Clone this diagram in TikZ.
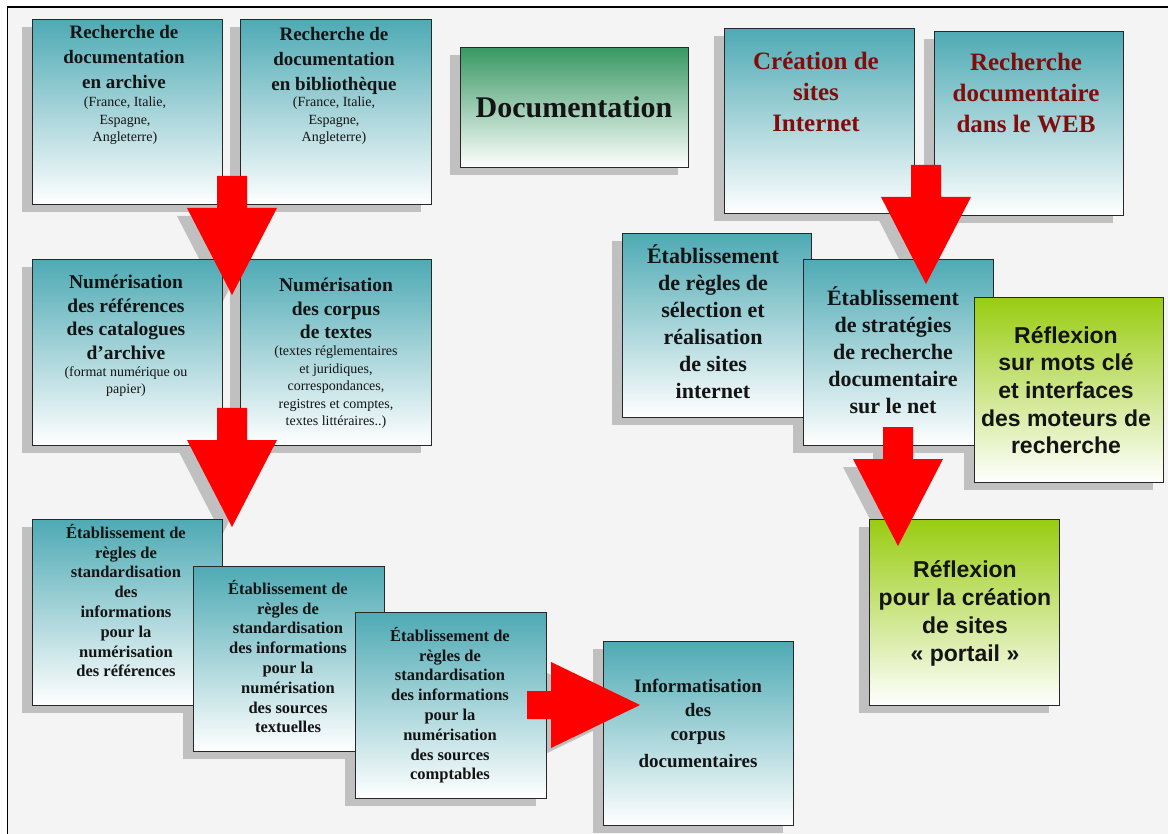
\documentclass[tikz,border=0pt]{standalone}
\usepackage{fontspec}
\setmainfont{Liberation Serif}
\newfontfamily\sansf{Liberation Sans}
\pgfdeclarelayer{bglayer}
\pgfdeclarelayer{shadowlayer}
\pgfdeclarelayer{frontlayer}
\pgfsetlayers{bglayer,shadowlayer,main,frontlayer}
\definecolor{tealtop}{RGB}{78,170,180}
\definecolor{doctop}{RGB}{56,152,100}
\definecolor{limetop}{RGB}{153,204,17}
\definecolor{shadowgrey}{RGB}{192,192,192}
\definecolor{boxline}{RGB}{40,40,40}
\definecolor{bgpaper}{RGB}{244,244,244}
\definecolor{arrowred}{RGB}{255,0,0}
\definecolor{webred}{RGB}{128,12,12}
\definecolor{inkblack}{RGB}{20,20,20}
\newcommand\fsz[2]{\fontsize{#1}{#2}\selectfont}
\newcommand\mkbox[6]{%
  \begin{pgfonlayer}{shadowlayer}\fill[shadowgrey] (#3-10,#4+8) rectangle ++(#5,#6);\end{pgfonlayer}%
  \node[#2, minimum width=#5pt, minimum height=#6pt] (#1) at (#3,#4) {};}
\tikzset{
  panel/.style={draw=boxline, line width=1.3pt, inner sep=0pt, anchor=north west, top color=#1, bottom color=white},
  tealpanel/.style={panel=tealtop},
  docpanel/.style={panel=doctop},
  limepanel/.style={panel=limetop},
  caption/.style={anchor=north, inner sep=0pt, align=center, text=inkblack},
  notetext/.style={caption, font=\mdseries\fsz{14}{17.5}},
  downarr/.pic={\fill (-15,0) -- (15,0) -- (15,32) -- (45,32) -- (0,119) -- (-45,32) -- (-15,32) -- cycle;},
  rightarr/.pic={\fill (0,-14) -- (24,-14) -- (24,-43) -- (113,0) -- (24,43) -- (24,14) -- (0,14) -- cycle;},
}
\begin{document}
\begin{tikzpicture}[x=1pt,y=-1pt]
\useasboundingbox (0,0) rectangle (1168,834);
\begin{pgfonlayer}{bglayer}
  \fill[white] (0,0) rectangle (1168,834);
  \fill[bgpaper] (7.5,7) rectangle (1168,834);
  \draw[line width=1.5pt] (7.5,834) -- (7.5,7) -- (1168,7);
\end{pgfonlayer}

% boxes
\mkbox{a1}{tealpanel}{32}{19}{190}{185}
\mkbox{a2}{tealpanel}{240}{19}{191}{185}
\mkbox{b1}{tealpanel}{32}{259}{190}{186}
\mkbox{b2}{tealpanel}{240}{259}{191}{186}
\mkbox{c1}{tealpanel}{32}{519}{190}{186}
\mkbox{c2}{tealpanel}{193}{566}{191}{185}
\mkbox{c3}{tealpanel}{355}{612}{191}{186}
\mkbox{d}{tealpanel}{603}{641}{190}{184}
\mkbox{doc}{docpanel}{460}{47}{228}{120}
\mkbox{e1}{tealpanel}{724}{28}{190}{185}
\mkbox{e2}{tealpanel}{934}{31}{189}{184}
\mkbox{f1}{tealpanel}{622}{233}{189}{184}
\mkbox{f2}{tealpanel}{803}{259}{190}{186}
\mkbox{g1}{limepanel}{974}{297}{189}{185}
\mkbox{g2}{limepanel}{869}{519}{190}{186}

% texts
\node[caption, font=\bfseries\fsz{19}{25}] (a1t) at (124,25) {Recherche de\\documentation\\en archive};
\node[notetext] (a1n) at (125,97) {(France, Italie,\\Espagne,\\Angleterre)};
\node[caption, font=\bfseries\fsz{19}{25}] (a2t) at (334,27) {Recherche de\\documentation\\en bibliothèque};
\node[notetext] (a2n) at (334,97) {(France, Italie,\\Espagne,\\Angleterre)};
\node[caption, font=\bfseries\fsz{19.5}{23.5}] (b1t) at (126,275) {Numérisation\\des références\\des catalogues\\d’archive};
\node[notetext] (b1n) at (126,366) {(format numérique ou\\papier)};
\node[caption, font=\bfseries\fsz{19.5}{23.5}] (b2t) at (336,278) {Numérisation\\des corpus\\de textes};
\node[notetext] (b2n) at (336,346) {(textes réglementaires\\et juridiques,\\correspondances,\\registres et comptes,\\textes littéraires..)};
\node[caption, font=\bfseries\fsz{16.5}{19.8}] (c1t) at (126,524) {Établissement de\\règles de\\standardisation\\des\\informations\\pour la\\numérisation\\des références};
\node[caption, font=\bfseries\fsz{16.5}{19.8}] (c2t) at (288,580) {Établissement de\\règles de\\standardisation\\des informations\\pour la\\numérisation\\des sources\\textuelles};
\node[caption, font=\bfseries\fsz{16.5}{19.8}] (c3t) at (450,627) {Établissement de\\règles de\\standardisation\\des informations\\pour la\\numérisation\\des sources\\comptables};
\node[caption, font=\bfseries\fsz{19}{24}] (dt) at (698,679) {Informatisation\\des\\corpus\\[3pt]documentaires};
\node[caption, anchor=center, font=\bfseries\fsz{30}{34}] (doct) at (574,107) {Documentation};
\node[caption, text=webred, font=\bfseries\fsz{25}{31}] (e1t) at (816,52) {Création de\\sites\\Internet};
\node[caption, text=webred, font=\bfseries\fsz{25}{31}] (e2t) at (1026,53) {Recherche\\documentaire\\dans le WEB};
\node[caption, font=\bfseries\fsz{22}{27}] (f1t) at (713,244) {Établissement\\de règles de\\sélection et\\réalisation\\de sites\\internet};
\node[caption, font=\bfseries\fsz{22}{27}] (f2t) at (893,286) {Établissement\\de stratégies\\de recherche\\documentaire\\sur le net};
\node[caption, font=\sansf\bfseries\fsz{23}{27.7}] (g1t) at (1066,326) {Réflexion\\sur mots clé\\et interfaces\\des moteurs de\\recherche};
\node[caption, font=\sansf\bfseries\fsz{23}{28}] (g2t) at (965,560) {Réflexion\\pour la création\\de sites\\« portail »};

% arrows
\coordinate (ar1) at (232,176);
\coordinate (ar2) at (232,408);
\coordinate (ar3) at (527,705);
\coordinate (ar4) at (926,165);
\coordinate (ar5) at (898,427);
\begin{pgfonlayer}{shadowlayer}
  \pic[shadowgrey] at ([shift={(-10,8)}]ar1) {downarr};
  \pic[shadowgrey] at ([shift={(-10,8)}]ar2) {downarr};
  \pic[shadowgrey] at ([shift={(-10,8)}]ar3) {rightarr};
  \pic[shadowgrey] at ([shift={(-10,8)}]ar4) {downarr};
  \pic[shadowgrey] at ([shift={(-10,8)}]ar5) {downarr};
\end{pgfonlayer}
\begin{pgfonlayer}{frontlayer}
  \pic[arrowred] at (ar1) {downarr};
  \pic[arrowred] at (ar2) {downarr};
  \pic[arrowred] at (ar3) {rightarr};
  \pic[arrowred] at (ar4) {downarr};
  \pic[arrowred] at (ar5) {downarr};
\end{pgfonlayer}
\end{tikzpicture}
\end{document}
